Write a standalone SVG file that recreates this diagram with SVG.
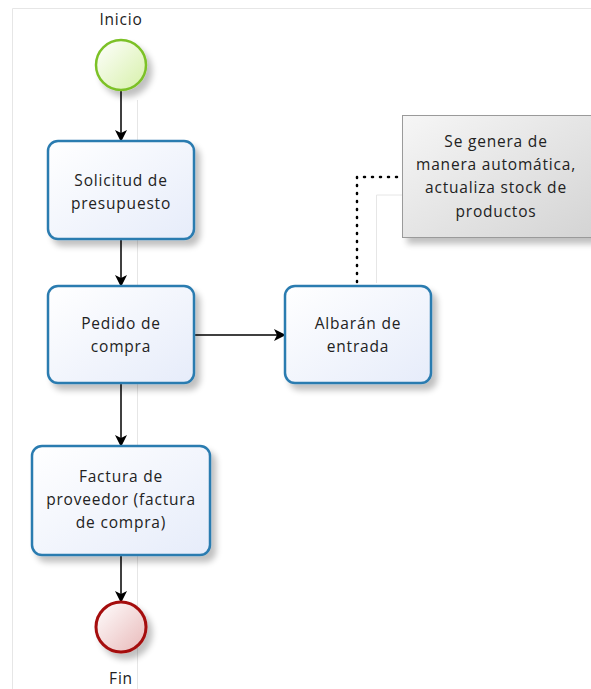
<svg xmlns="http://www.w3.org/2000/svg" width="591" height="689" viewBox="0 0 591 689">
<defs>
<linearGradient id="taskFill" x1="0" y1="0" x2="1" y2="1">
<stop offset="0" stop-color="#ffffff"/>
<stop offset="1" stop-color="#e6ecfa"/>
</linearGradient>
<linearGradient id="startFill" x1="0" y1="0" x2="1" y2="1">
<stop offset="0" stop-color="#ffffff"/>
<stop offset="1" stop-color="#d6f0a8"/>
</linearGradient>
<linearGradient id="endFill" x1="0" y1="0" x2="1" y2="1">
<stop offset="0" stop-color="#ffffff"/>
<stop offset="1" stop-color="#e8b8b8"/>
</linearGradient>
<linearGradient id="noteFill" x1="0" y1="0" x2="1" y2="1">
<stop offset="0" stop-color="#f6f6f6"/>
<stop offset="1" stop-color="#d4d4d4"/>
</linearGradient>
<filter id="shadow" x="-20%" y="-20%" width="150%" height="150%">
<feGaussianBlur in="SourceAlpha" stdDeviation="3"/>
<feOffset dx="5" dy="6" result="b"/>
<feComponentTransfer><feFuncA type="linear" slope="0.25"/></feComponentTransfer>
<feMerge><feMergeNode/><feMergeNode in="SourceGraphic"/></feMerge>
</filter>
<marker id="arrow" viewBox="0 0 12 12" refX="11" refY="6" markerWidth="12" markerHeight="12" markerUnits="userSpaceOnUse" orient="auto">
<path d="M0,0 L12,6 L0,12 L3,6 Z" fill="#000"/>
</marker>
</defs>
<style>
.task{fill:url(#taskFill);stroke:#2c7bb0;stroke-width:2.5;filter:url(#shadow)}
.lbl{font-family:"Open Sans","Noto Sans",sans-serif;font-size:15.5px;letter-spacing:0.8px;fill:#222;text-anchor:middle}
.flow{fill:none;stroke:#000;stroke-width:1.5;marker-end:url(#arrow)}
.assoc{fill:none;stroke:#000;stroke-width:2.5;stroke-dasharray:1 7;stroke-linecap:round}
.page{fill:none;stroke:#e6e6e6;stroke-width:1}
</style>
<rect width="591" height="689" fill="#ffffff"/>
<path class="page" d="M12.5,689 V8.5 H591"/>
<path class="page" d="M137.5,100 V689 M376.5,195 V283 M376.5,195 H402" stroke="#f0f0f0"/>

<g id="connectors">
<line class="flow" x1="121" y1="90" x2="121" y2="141"/>
<line class="flow" x1="121" y1="240" x2="121" y2="286"/>
<line class="flow" x1="121" y1="383" x2="121" y2="446"/>
<line class="flow" x1="121" y1="555" x2="121" y2="602"/>
<line class="flow" x1="194" y1="335" x2="285" y2="335"/>
<path class="assoc" d="M357,282 V177 H398"/>
</g>

<g id="inicio">
<circle cx="121" cy="65" r="25" fill="url(#startFill)" stroke="#7cc128" stroke-width="2.5" filter="url(#shadow)"/>
<text class="lbl" x="121" y="25">Inicio</text>
</g>

<g id="solicitud">
<rect class="task" x="48" y="141" width="146" height="98" rx="10"/>
<text class="lbl" x="121" y="186">Solicitud de</text>
<text class="lbl" x="121" y="209">presupuesto</text>
</g>

<g id="pedido">
<rect class="task" x="48" y="286" width="146" height="97" rx="10"/>
<text class="lbl" x="121" y="329">Pedido de</text>
<text class="lbl" x="121" y="352">compra</text>
</g>

<g id="albaran">
<rect class="task" x="285" y="286" width="146" height="97" rx="10"/>
<text class="lbl" x="358" y="329">Albarán de</text>
<text class="lbl" x="358" y="352">entrada</text>
</g>

<g id="factura">
<rect class="task" x="32" y="446" width="178" height="109" rx="10"/>
<text class="lbl" x="121" y="482">Factura de</text>
<text class="lbl" x="121" y="505">proveedor (factura</text>
<text class="lbl" x="121" y="528">de compra)</text>
</g>

<g id="fin">
<circle cx="121" cy="627" r="25" fill="url(#endFill)" stroke="#a50f0f" stroke-width="3" filter="url(#shadow)"/>
<text class="lbl" x="121" y="684">Fin</text>
</g>

<g id="nota">
<rect x="402.5" y="115.5" width="190" height="122" fill="url(#noteFill)" stroke="#9a9a9a" stroke-width="1" filter="url(#shadow)"/>
<text class="lbl" x="496" y="147">Se genera de</text>
<text class="lbl" x="496" y="170">manera automática,</text>
<text class="lbl" x="496" y="193">actualiza stock de</text>
<text class="lbl" x="496" y="217">productos</text>
</g>
</svg>
